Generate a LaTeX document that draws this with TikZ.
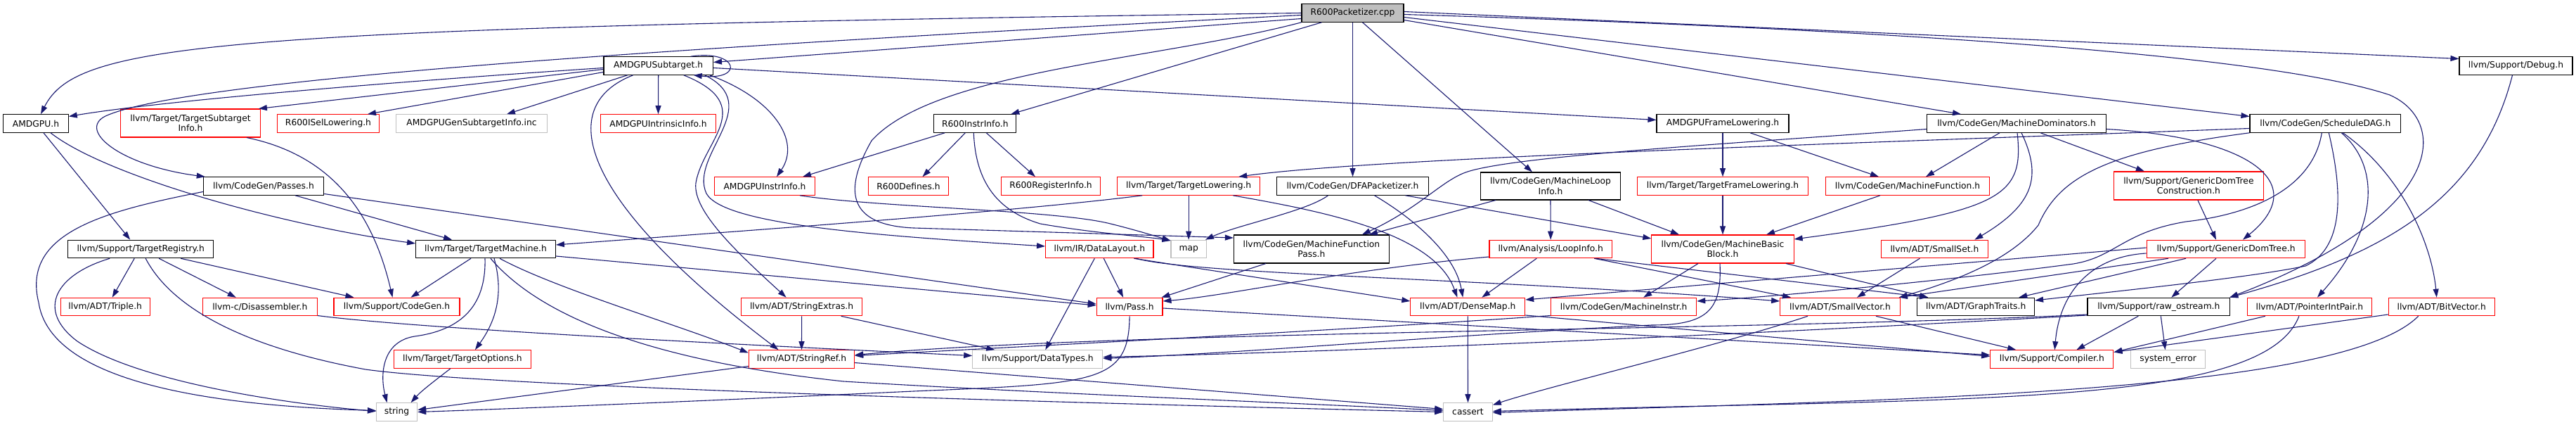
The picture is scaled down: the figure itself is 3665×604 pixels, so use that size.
\documentclass[tikz,border=0pt]{standalone}
\usepackage{fontspec}
\setmainfont{DejaVu Sans}
\usetikzlibrary{arrows.meta}
\definecolor{mblue}{HTML}{191970}
\definecolor{gray75}{HTML}{BFBFBF}
\definecolor{nred}{HTML}{FF0000}
\newcommand\nodefont{\fontsize{12.3}{14.5}\selectfont}
\tikzset{
  nbase/.style={draw, line width=1.1pt, inner sep=0pt, minimum height=25.5pt, font=\nodefont, align=center, fill=white},
  nblk/.style={nbase, draw=black},
  nrd/.style={nbase, draw=nred},
  ngr/.style={nbase, draw=gray75},
  edg/.style={-{Triangle[length=12pt,width=8pt]}, draw=mblue, line width=1.1pt},
}
\begin{document}
\begin{tikzpicture}[x=1pt,y=-1pt]
\useasboundingbox (0,0) rectangle (3665,604);
\fill[white] (0,0) rectangle (3665,604);
% row 0-1
\node[nblk, fill=gray75, minimum width=145pt] (A) at (1924.5,18.5) {R600Packetizer.cpp};
\node[nblk, minimum width=155.5pt] (S) at (936.7,93.5) {AMDGPUSubtarget.h};
\node[nblk, minimum width=161pt] (Dbg) at (3579.5,93.5) {llvm/Support/Debug.h};
% row 2
\node[nblk, minimum width=92.5pt] (AMDGPU) at (51,175.5) {AMDGPU.h};
\node[nrd, minimum width=198.7pt, minimum height=40pt] (TSI) at (271,175) {llvm/Target/TargetSubtarget\\Info.h};
\node[nrd, minimum width=145.6pt] (ISel) at (467,175.5) {R600ISelLowering.h};
\node[ngr, minimum width=214.8pt] (Gen) at (671,175.5) {AMDGPUGenSubtargetInfo.inc};
\node[nrd, minimum width=164pt] (Intr) at (936.5,175.5) {AMDGPUIntrinsicInfo.h};
\node[nblk, minimum width=117pt] (R6II) at (1387.3,175.5) {R600InstrInfo.h};
\node[nblk, minimum width=188pt] (AFL) at (2451,175.5) {AMDGPUFrameLowering.h};
\node[nblk, minimum width=255pt] (MD) at (2869,175.5) {llvm/CodeGen/MachineDominators.h};
\node[nblk, minimum width=214.6pt] (SD) at (3308.3,175.5) {llvm/CodeGen/ScheduleDAG.h};
% row 3
\node[nblk, minimum width=171.4pt] (Passes) at (375,264.5) {llvm/CodeGen/Passes.h};
\node[nrd, minimum width=143pt] (AII) at (1088,264.5) {AMDGPUInstrInfo.h};
\node[nrd, minimum width=114.8pt] (R6Def) at (1292.5,264.5) {R600Defines.h};
\node[nrd, minimum width=140.5pt] (R6Reg) at (1495,264.5) {R600RegisterInfo.h};
\node[nrd, minimum width=202.6pt] (TL) at (1691.2,264.5) {llvm/Target/TargetLowering.h};
\node[nblk, minimum width=216.2pt] (DFA) at (1924.5,264.5) {llvm/CodeGen/DFAPacketizer.h};
\node[nblk, minimum width=198.3pt, minimum height=39pt] (MLI) at (2206,264.5) {llvm/CodeGen/MachineLoop\\Info.h};
\node[nrd, minimum width=243pt] (TFL) at (2451,264.5) {llvm/Target/TargetFrameLowering.h};
\node[nrd, minimum width=233.8pt] (MF) at (2714,264.5) {llvm/CodeGen/MachineFunction.h};
\node[nrd, minimum width=213.3pt, minimum height=40pt] (GDTC) at (3113.9,264) {llvm/Support/GenericDomTree\\Construction.h};
% row 4
\node[nblk, minimum width=206.9pt] (TR) at (200.2,354) {llvm/Support/TargetRegistry.h};
\node[nblk, minimum width=198.8pt] (TM) at (691,354) {llvm/Target/TargetMachine.h};
\node[nrd, minimum width=153.4pt] (DL) at (1564.3,354) {llvm/IR/DataLayout.h};
\node[ngr, minimum width=50.4pt] (map) at (1691.2,354) {map};
\node[nblk, minimum width=221pt, minimum height=40pt] (MFP) at (1865.9,354) {llvm/CodeGen/MachineFunction\\Pass.h};
\node[nrd, minimum width=174.5pt] (LI) at (2206.2,354) {llvm/Analysis/LoopInfo.h};
\node[nrd, minimum width=202.2pt, minimum height=40pt] (MBB) at (2451,354) {llvm/CodeGen/MachineBasic\\Block.h};
\node[nrd, minimum width=152.3pt] (SSet) at (2752.4,354) {llvm/ADT/SmallSet.h};
\node[nrd, minimum width=225.6pt] (GDT) at (3167,354) {llvm/Support/GenericDomTree.h};
% row 5
\node[nrd, minimum width=126.8pt] (Triple) at (149.7,436) {llvm/ADT/Triple.h};
\node[nrd, minimum width=162.8pt] (Dis) at (369.8,436) {llvm-c/Disassembler.h};
\node[nrd, minimum width=179pt] (CG) at (564.5,436) {llvm/Support/CodeGen.h};
\node[nrd, minimum width=171.8pt] (SE) at (1140.6,436) {llvm/ADT/StringExtras.h};
\node[nrd, minimum width=93.7pt] (Pass) at (1607.1,436) {llvm/Pass.h};
\node[nrd, minimum width=162.8pt] (DM) at (2088.3,436) {llvm/ADT/DenseMap.h};
\node[nrd, minimum width=207pt] (MI) at (2310.2,436) {llvm/CodeGen/MachineInstr.h};
\node[nrd, minimum width=170.6pt] (SV) at (2618,436) {llvm/ADT/SmallVector.h};
\node[nblk, minimum width=166.7pt] (GT) at (2811.2,436) {llvm/ADT/GraphTraits.h};
\node[nblk, minimum width=202.7pt] (RO) at (3071.3,436) {llvm/Support/raw\_ostream.h};
\node[nrd, minimum width=177.3pt] (PIP) at (3285.9,436) {llvm/ADT/PointerIntPair.h};
\node[nrd, minimum width=151pt] (BV) at (3473.7,436) {llvm/ADT/BitVector.h};
% row 6
\node[nrd, minimum width=194.8pt] (TO) at (657.9,510.5) {llvm/Target/TargetOptions.h};
\node[nrd, minimum width=150.3pt] (SR) at (1140.5,510.5) {llvm/ADT/StringRef.h};
\node[ngr, minimum width=185pt] (DT) at (1476.3,510.5) {llvm/Support/DataTypes.h};
\node[nrd, minimum width=175.2pt] (Comp) at (2919.3,510.5) {llvm/Support/Compiler.h};
\node[ngr, minimum width=106.4pt] (SE2) at (3084.6,510.5) {system\_error};
% row 7
\node[ngr, minimum width=58.1pt] (string) at (564.6,585.5) {string};
\node[ngr, minimum width=69.5pt] (cassert) at (2088.5,585.5) {cassert};

% ---- edges from R600Packetizer.cpp
\draw[edg] (A.west) .. controls (300,40) and (110,60) .. ([xshift=7]AMDGPU.north);
\draw[edg] ([yshift=-3]A.west) .. controls (900,70) and (260,115) .. (150,165) .. controls (110,185) and (170,235) .. ([xshift=3]Passes.north west);
\draw[edg] ([yshift=-8]A.west) -- ([yshift=5]S.east);
\draw[edg] ([xshift=-44]A.south) -- ([xshift=51]R6II.north);
\draw[edg] (A.south west) .. controls (1650,85) and (1330,100) .. (1240,200) .. controls (1200,270) and (1205,320) .. (1300,324) -- ([yshift=16]MFP.west);
\draw[edg] (A.south) -- (DFA.north);
\draw[edg] ([xshift=14]A.south) -- ([xshift=-26]MLI.north);
\draw[edg] ([yshift=-10]A.east) -- ([xshift=-79]MD.north);
\draw[edg] ([yshift=-6]A.east) -- ([yshift=10]SD.west);
\draw[edg] ([yshift=2]A.east) -- ([yshift=10]Dbg.west);
\draw[edg] ([yshift=-2]A.east) .. controls (2800,45) and (3250,85) .. (3400,135) .. controls (3480,170) and (3490,300) .. ([xshift=-1]RO.north east);

% ---- AMDGPUSubtarget.h
\draw[edg] ([xshift=46]S.north) .. controls (1050,70) and (1060,115) .. ([xshift=50]S.south);
\draw[edg] ([yshift=-3]S.west) .. controls (650,110) and (250,140) .. ([yshift=10]AMDGPU.east);
\draw[edg] ([yshift=-5]S.west) -- ([xshift=-3]TSI.north east);
\draw[edg] ([yshift=-9]S.west) -- ([xshift=56]ISel.north);
\draw[edg] ([xshift=-44]S.south) -- ([xshift=50]Gen.north);
\draw[edg] (S.south) -- (Intr.north);
\draw[edg] ([xshift=73]S.south) .. controls (1100,140) and (1140,200) .. ([xshift=17]AII.north);
\draw[edg] ([yshift=-3]S.east) -- ([yshift=5]AFL.west);
\draw[edg] ([xshift=-36]S.south) .. controls (790,150) and (820,280) .. ([xshift=-33]SR.north);
\draw[edg] ([xshift=36]S.south) .. controls (1080,150) and (1000,200) .. (990,260) .. controls (985,300) and (1050,360) .. ([xshift=-22]SE.north);
\draw[edg] ([xshift=66]S.south) .. controls (1090,150) and (980,220) .. (1005,275) .. controls (1030,320) and (1250,335) .. ([yshift=4]DL.west);

% ---- AMDGPU.h, TargetSubtargetInfo.h, Passes.h
\draw[edg] ([xshift=11]AMDGPU.south) -- ([xshift=-15]TR.north);
\draw[edg] ([xshift=21]AMDGPU.south) .. controls (150,250) and (400,320) .. ([yshift=8]TM.west);
\draw[edg] ([xshift=80]TSI.south) .. controls (470,220) and (530,300) .. ([xshift=-6]CG.north);
\draw[edg] ([yshift=-8]Passes.west) .. controls (150,300) and (30,330) .. (55,430) .. controls (70,530) and (250,575) .. ([yshift=2]string.west);
\draw[edg] ([xshift=45]Passes.south) -- ([xshift=-48]TM.north);
\draw[edg] ([yshift=-11]Passes.east) -- ([yshift=4]Pass.west);

% ---- TargetRegistry.h
\draw[edg] ([xshift=-9]TR.south) -- ([xshift=10]Triple.north);
\draw[edg] ([xshift=26]TR.south) -- ([xshift=-34]Dis.north);
\draw[edg] ([xshift=57]TR.south) -- ([xshift=-61]CG.north);
\draw[edg] ([xshift=-44]TR.south) .. controls (80,390) and (50,440) .. (110,485) .. controls (200,545) and (420,575) .. ([yshift=1]string.west);
\draw[edg] ([xshift=7]TR.south) .. controls (240,430) and (330,490) .. (520,525) .. controls (700,550) and (1500,572) .. (cassert.west);

% ---- TargetMachine.h
\draw[edg] ([xshift=-21]TM.south) -- ([xshift=20]CG.north);
\draw[edg] ([xshift=-1]TM.south) .. controls (692,440) and (650,470) .. (590,478) .. controls (545,485) and (540,530) .. ([xshift=-14]string.north);
\draw[edg] ([xshift=12]TM.south) .. controls (715,410) and (710,450) .. ([xshift=18]TO.north);
\draw[edg] ([xshift=20]TM.south) .. controls (790,410) and (960,460) .. ([yshift=9]SR.west);
\draw[edg] ([xshift=7]TM.south) .. controls (760,440) and (900,510) .. (1200,542) .. controls (1500,560) and (1900,575) .. ([yshift=2]cassert.west);
\draw[edg] ([yshift=-10]TM.east) -- ([yshift=2]Pass.west);

% ---- Disassembler, TargetOptions, StringExtras, StringRef
\draw[edg] ([yshift=-12.5]Dis.east) .. controls (600,468) and (1100,492) .. ([yshift=5]DT.west);
\draw[edg] ([xshift=-17]TO.south) .. controls (620,540) and (600,555) .. ([xshift=20]string.north);
\draw[edg] (SE.south) -- (SR.north);
\draw[edg] ([xshift=56]SE.south) -- ([xshift=-61]DT.north);
\draw[edg] ([yshift=-10]SR.west) -- ([yshift=3]string.east);
\draw[edg] ([yshift=-5]SR.east) -- ([yshift=4]cassert.west);

% ---- DataLayout, Pass, MachineFunctionPass
\draw[edg] ([xshift=6]DL.south) -- ([xshift=-9]Pass.north);
\draw[edg] ([xshift=-7]DL.south) -- ([xshift=11]DT.north);
\draw[edg] ([xshift=49]DL.south) -- ([yshift=8]DM.west);
\draw[edg] ([xshift=52]DL.south) .. controls (1700,390) and (2100,395) .. ([yshift=8]SV.west);
\draw[edg] (Pass.south) .. controls (1606,545) and (1560,545) .. (1300,556) .. controls (1000,570) and (700,582) .. (string.east);
\draw[edg] ([yshift=-2]Pass.east) -- ([yshift=6]Comp.west);
\draw[edg] ([xshift=-65]MFP.south) -- ([xshift=-2]Pass.north east);

% ---- LoopInfo, MachineLoopInfo
\draw[edg] ([yshift=-11]LI.west) .. controls (1900,385) and (1750,420) .. ([yshift=8]Pass.east);
\draw[edg] ([xshift=-20]LI.south) -- ([xshift=20]DM.north);
\draw[edg] ([xshift=62]LI.south) -- ([xshift=-70]SV.north);
\draw[edg] ([xshift=64]LI.south) -- ([xshift=-68]GT.north);
\draw[edg] (MLI.south) -- (LI.north);
\draw[edg] ([xshift=-78]MLI.south) -- ([xshift=82]MFP.north);
\draw[edg] ([xshift=54]MLI.south) -- ([xshift=-62]MBB.north);

% ---- DFAPacketizer, TargetLowering
\draw[edg] ([xshift=-35]DFA.south) .. controls (1860,300) and (1760,320) .. ([xshift=-2]map.north east);
\draw[edg] ([xshift=31]DFA.south) .. controls (2010,310) and (2070,360) .. ([xshift=-7]DM.north);
\draw[edg] ([xshift=75]DFA.south) -- ([yshift=15]MBB.west);
\draw[edg] (TL.south) -- (map.north);
\draw[edg] ([xshift=-66]TL.south) .. controls (1450,300) and (1100,325) .. ([yshift=6]TM.east);
\draw[edg] ([xshift=63]TL.south) .. controls (1880,300) and (2040,330) .. ([xshift=-15]DM.north);

% ---- R600InstrInfo, AMDGPUInstrInfo
\draw[edg] ([xshift=-43]R6II.south) -- ([xshift=54]AII.north);
\draw[edg] ([xshift=-14]R6II.south) -- ([xshift=20]R6Def.north);
\draw[edg] ([xshift=16]R6II.south) -- ([xshift=-22]R6Reg.north);
\draw[edg] ([xshift=-2]R6II.south) .. controls (1388,260) and (1420,300) .. (1480,318) .. controls (1560,332) and (1630,336) .. ([yshift=12]map.west);
\draw[edg] ([xshift=50]AII.south) .. controls (1250,295) and (1500,298) .. (1580,318) .. controls (1620,328) and (1645,336) .. ([yshift=12]map.west);

% ---- AMDGPUFrameLowering, TargetFrameLowering, MachineFunction
\draw[edg] (AFL.south) -- (TFL.north);
\draw[edg] ([xshift=39]AFL.south) -- ([xshift=-41]MF.north);
\draw[edg] (TFL.south) -- (MBB.north);
\draw[edg] ([xshift=-39]MF.south) -- ([xshift=62]MBB.north);

% ---- MachineDominators
\draw[edg] ([xshift=-24]MD.south) -- ([xshift=26]MF.north);
\draw[edg] ([yshift=-8]MD.west) .. controls (2450,205) and (2150,222) .. (2085,245) .. controls (2050,258) and (2020,295) .. ([xshift=72]MFP.north);
\draw[edg] ([xshift=1]MD.south) .. controls (2880,280) and (2850,300) .. ([yshift=14]MBB.east);
\draw[edg] ([xshift=7]MD.south) .. controls (2905,250) and (2895,290) .. ([xshift=57]SSet.north);
\draw[edg] ([xshift=34]MD.south) -- ([xshift=-63]GDTC.north);
\draw[edg] ([yshift=-8]MD.east) .. controls (3200,195) and (3290,260) .. ([xshift=24]GDT.north);
\draw[edg] ([xshift=13]GDTC.south) -- ([xshift=-14]GDT.north);

% ---- ScheduleDAG
\draw[edg] ([yshift=-7]SD.west) .. controls (2600,205) and (1950,225) .. ([xshift=71]TL.north);
\draw[edg] (SD.south west) .. controls (3000,215) and (2930,250) .. (2900,320) .. controls (2860,370) and (2780,400) .. ([xshift=-2]SV.north east);
\draw[edg] ([xshift=-5]SD.south) .. controls (3290,270) and (3200,305) .. (3110,315) .. controls (3020,330) and (3010,365) .. (2950,375) .. controls (2800,395) and (2550,420) .. ([yshift=8]MI.east);
\draw[edg] ([xshift=5]SD.south) .. controls (3330,260) and (3340,350) .. (3280,378) .. controls (3200,395) and (3000,415) .. ([yshift=9]GT.east);
\draw[edg] ([xshift=23]SD.south) .. controls (3390,240) and (3380,330) .. ([xshift=11]PIP.north);
\draw[edg] ([xshift=25]SD.south) .. controls (3420,250) and (3460,350) .. ([xshift=-7]BV.north);

% ---- Debug.h
\draw[edg] ([xshift=-5]Dbg.south) .. controls (3530,280) and (3400,360) .. ([xshift=-1]RO.north east);

% ---- GenericDomTree
\draw[edg] ([xshift=-14]GDT.south) -- ([xshift=18]RO.north);
\draw[edg] ([yshift=2]GDT.west) -- ([yshift=10]DM.east);
\draw[edg] ([yshift=-6]GDT.west) .. controls (2970,365) and (2930,420) .. ([xshift=4]Comp.north);
\draw[edg] ([xshift=-82]GDT.south) -- ([xshift=-2]SV.north east);
\draw[edg] ([xshift=-57]GDT.south) -- ([xshift=61]GT.north);

% ---- raw_ostream
\draw[edg] ([xshift=3]RO.south) -- ([xshift=-4]SE2.north);
\draw[edg] ([xshift=-29]RO.south) -- ([xshift=35]Comp.north);
\draw[edg] ([yshift=-11]RO.west) .. controls (2500,470) and (1600,470) .. ([yshift=6]SR.east);
\draw[edg] ([yshift=-12]RO.west) .. controls (2400,480) and (1900,500) .. ([yshift=3]DT.east);

% ---- MachineBasicBlock, SmallSet, MachineInstr
\draw[edg] ([xshift=-4]MBB.south) .. controls (2450,440) and (2430,462) .. (2350,462) .. controls (2000,480) and (1800,500) .. ([yshift=1]DT.east);
\draw[edg] ([xshift=-35]MBB.south) -- ([xshift=28]MI.north);
\draw[edg] ([xshift=90]MBB.south) -- ([xshift=-68]GT.north);
\draw[edg] ([xshift=-21]SSet.south) -- ([xshift=24]SV.north);
\draw[edg] ([yshift=-12.5]MI.west) .. controls (1900,470) and (1500,490) .. ([yshift=5]SR.east);

% ---- SmallVector, DenseMap, PointerIntPair, BitVector
\draw[edg] ([xshift=51]SV.south) -- ([xshift=-51]Comp.north);
\draw[edg] ([xshift=-46]SV.south) .. controls (2450,490) and (2200,550) .. ([yshift=10]cassert.east);
\draw[edg] (DM.south) -- (cassert.north);
\draw[edg] ([yshift=-12]DM.east) -- ([yshift=4]Comp.west);
\draw[edg] ([xshift=-63]PIP.south) -- ([yshift=10]Comp.east);
\draw[edg] ([xshift=-15]PIP.south) .. controls (3220,580) and (2800,565) .. ([yshift=1]cassert.east);
\draw[edg] ([yshift=-11]BV.west) -- ([yshift=10]Comp.east);
\draw[edg] ([xshift=-33]BV.south) .. controls (3330,560) and (2700,568) .. ([yshift=-1]cassert.east);
\end{tikzpicture}
\end{document}
